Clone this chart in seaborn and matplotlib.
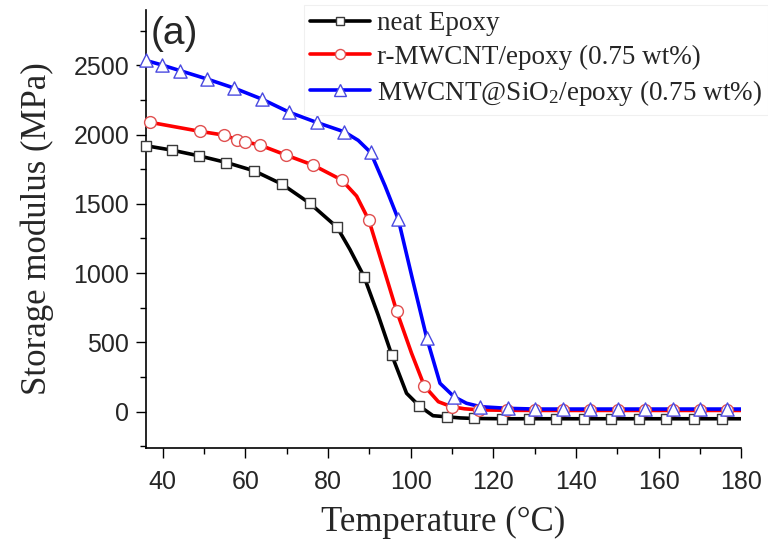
import numpy as np
import pandas as pd
import seaborn as sns
import matplotlib
matplotlib.use("Agg")
import matplotlib.pyplot as plt
from matplotlib.lines import Line2D
from matplotlib.ticker import MultipleLocator
from matplotlib import font_manager

# ---------------- data ----------------
series_names = ["neat Epoxy", "r-MWCNT/epoxy (0.75 wt%)", "MWCNT@SiO$_2$/epoxy (0.75 wt%)"]

# marker points
neat_T = [35.9, 42.1, 48.8, 55.4, 62.1, 68.9, 75.6, 82.2, 88.7, 95.4, 102.1, 108.7,
          115.3, 122.0, 128.6, 135.3, 141.9, 148.6, 155.3, 161.9, 168.6, 175.3]
neat_E = [1919, 1888, 1846, 1798, 1738, 1641, 1503, 1330, 975, 410, 40, -38,
          -50, -52, -52, -52, -52, -52, -52, -52, -52, -52]

red_T = [37.0, 49.0, 54.8, 58.0, 59.9, 63.5, 69.9, 76.4, 83.3, 89.9, 96.6, 103.3,
         109.9, 116.6, 123.4, 130.1, 136.8, 143.4, 150.1, 156.7, 163.4, 170.0, 176.7]
red_E = [2088, 2023, 1996, 1962, 1948, 1924, 1851, 1779, 1672, 1380, 726, 185,
         35, 12, 9, 8, 8, 8, 8, 8, 8, 8, 8]

blue_T = [35.9, 39.7, 44.1, 50.6, 57.3, 63.9, 70.6, 77.2, 83.9, 90.3, 97.0, 103.9,
          110.5, 116.9, 123.6, 130.2, 136.8, 143.5, 150.1, 156.8, 163.4, 170.1, 176.7]
blue_E = [2535, 2503, 2462, 2402, 2335, 2257, 2161, 2088, 2020, 1871, 1388, 530,
          107, 35, 23, 18, 18, 18, 18, 18, 18, 18, 18]

# additional points (between markers)
neat_curve_T = [85.3, 92.1, 99.0, 105.4, 112.0, 180.0]
neat_curve_E = [1170, 699, 132, -30, -46, -52]
red_curve_T = [35.9, 86.9, 93.3, 100.2, 106.7, 113.0, 180.0]
red_curve_E = [2095, 1556, 1049, 422, 71, 20, 8]
blue_curve_T = [87.3, 93.8, 100.4, 107.1, 113.5, 180.0]
blue_curve_E = [1958, 1629, 960, 204, 60, 18]

x_ticks = [40, 60, 80, 100, 120, 140, 160, 180]
y_ticks = [0, 500, 1000, 1500, 2000, 2500]

line_colors = ["#000000", "#ff0000", "#0000ff"]
edge_colors = ["#3a3a3a", "#e05050", "#4a4ae0"]
markers = ["s", "o", "^"]
msizes = [7.5, 8.5, 9.5]

# ---------------- build tables ----------------
marker_df = pd.concat([
    pd.DataFrame({"T": neat_T, "E": neat_E, "s": series_names[0]}),
    pd.DataFrame({"T": red_T, "E": red_E, "s": series_names[1]}),
    pd.DataFrame({"T": blue_T, "E": blue_E, "s": series_names[2]}),
], ignore_index=True)

line_df = pd.concat([
    pd.DataFrame({"T": neat_T + neat_curve_T, "E": neat_E + neat_curve_E, "s": series_names[0]}),
    pd.DataFrame({"T": red_T + red_curve_T, "E": red_E + red_curve_E, "s": series_names[1]}),
    pd.DataFrame({"T": blue_T + blue_curve_T, "E": blue_E + blue_curve_E, "s": series_names[2]}),
], ignore_index=True).sort_values(["s", "T"])

# ---------------- style ----------------
sns.set_style("ticks")
plt.rcParams["font.family"] = ["Liberation Serif", "DejaVu Serif"]
plt.rcParams["mathtext.fontset"] = "custom"
plt.rcParams["mathtext.rm"] = "Liberation Serif"
plt.rcParams["mathtext.it"] = "Liberation Serif:italic"

available = {f.name for f in font_manager.fontManager.ttflist}
tick_family = "Liberation Sans Narrow" if "Liberation Sans Narrow" in available else "Liberation Sans"
tick_size = 22 if tick_family == "Liberation Sans Narrow" else 18

fig = plt.figure(figsize=(7.68, 5.5), dpi=100)
ax = fig.add_axes([0.190, 0.185, 0.775, 0.797])

for i, name in enumerate(series_names):
    sub = line_df[line_df["s"] == name]
    sns.lineplot(data=sub, x="T", y="E", ax=ax, color=line_colors[i], lw=2.6,
                 sort=False, estimator=None, legend=False, zorder=2)
for i, name in enumerate(series_names):
    sub = marker_df[marker_df["s"] == name]
    sns.scatterplot(data=sub, x="T", y="E", ax=ax, marker=markers[i], s=msizes[i] ** 2,
                    facecolor="white", edgecolor=edge_colors[i], linewidth=1.0,
                    legend=False, zorder=3, clip_on=False)

ax.set_xlim(35.9, 180)
ax.set_ylim(-265, 2900)
ax.set_xticks(x_ticks)
ax.set_yticks(y_ticks)
ax.xaxis.set_minor_locator(MultipleLocator(10))
ax.yaxis.set_minor_locator(MultipleLocator(250))
ax.tick_params(which="major", direction="out", length=7, width=1.0, color="black")
ax.tick_params(which="minor", direction="out", length=4, width=1.0, color="black")
for lab in ax.get_xticklabels() + ax.get_yticklabels():
    lab.set_fontfamily([tick_family, "DejaVu Sans"])
    lab.set_fontsize(tick_size)
ax.tick_params(axis="x", pad=9)
ax.tick_params(axis="y", pad=5)

sns.despine(ax=ax, top=True, right=True)
for sp in ["left", "bottom"]:
    ax.spines[sp].set_linewidth(1.2)
    ax.spines[sp].set_color("black")

ax.set_xlabel("Temperature (\u00b0C)", fontsize=25, labelpad=8)
ax.set_ylabel("Storage modulus (MPa)", fontsize=25, labelpad=14)

ax.text(0.008, 0.985, "(a)", transform=ax.transAxes, fontsize=28,
        family=["Liberation Sans", "DejaVu Sans"], ha="left", va="top")

handles = [Line2D([0], [0], color=line_colors[i], lw=2.6, marker=markers[i],
                  markersize=msizes[i] * 0.85, markerfacecolor="white",
                  markeredgecolor=edge_colors[i], markeredgewidth=1.0)
           for i in range(3)]
leg = ax.legend(handles, series_names, loc="upper left", bbox_to_anchor=(0.265, 1.012),
                fontsize=19.5, frameon=True, fancybox=False, framealpha=1,
                edgecolor="#f0f0f0", handlelength=2.2, handletextpad=0.25,
                labelspacing=0.3, borderpad=0.25, borderaxespad=0.0)
leg.get_frame().set_linewidth(0.8)

fig.savefig("out.png", dpi=100)
